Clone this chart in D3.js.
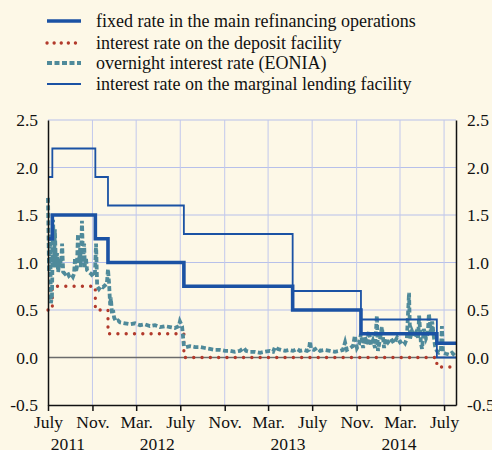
<!DOCTYPE html>
<html>
<head>
    <meta charset="utf-8">
    <title>ECB interest rates</title>
    <script src="https://d3js.org/d3.v7.min.js"></script>
    <style>
        body {
            margin: 0;
            background-color: #fdf8e7;
        }
        text {
            font-family: "Liberation Serif", "Times New Roman", serif;
            fill: #111;
        }
    </style>
</head>
<body>
    <script>
        // Policy rate step points (date the rate took effect, rate)
        const mroDates = ["2011-07-01", "2011-07-13", "2011-11-09", "2011-12-14", "2012-07-11", "2013-05-08", "2013-11-13", "2014-06-11"];
        const mroValues = [1.25, 1.50, 1.25, 1.00, 0.75, 0.50, 0.25, 0.15];

        const depositDates = ["2011-07-01", "2011-07-13", "2011-11-09", "2011-12-14", "2012-07-11", "2014-06-11"];
        const depositValues = [0.50, 0.75, 0.50, 0.25, 0.00, -0.10];

        const lendingDates = ["2011-07-01", "2011-07-13", "2011-11-09", "2011-12-14", "2012-07-11", "2013-05-08", "2013-11-13", "2014-06-11"];
        const lendingValues = [1.90, 2.20, 1.90, 1.60, 1.30, 0.70, 0.40, 0.00];

        // EONIA
        const eoniaDates = [
            "2011-07-01", "2011-07-04", "2011-07-07", "2011-07-09", "2011-07-12", "2011-07-15", "2011-07-18", "2011-07-20",
            "2011-07-23", "2011-07-26", "2011-07-29", "2011-08-03", "2011-08-06", "2011-08-09", "2011-08-12", "2011-08-17",
            "2011-08-23", "2011-08-28", "2011-09-03", "2011-09-08", "2011-09-11", "2011-09-14", "2011-09-16", "2011-09-19",
            "2011-09-22", "2011-09-25", "2011-09-28", "2011-09-30", "2011-10-03", "2011-10-06", "2011-10-09", "2011-10-11",
            "2011-10-14", "2011-10-17", "2011-10-22", "2011-10-28", "2011-11-03", "2011-11-08", "2011-11-11", "2011-11-14",
            "2011-11-19", "2011-11-25", "2011-11-30", "2011-12-06", "2011-12-11", "2011-12-14", "2011-12-17", "2011-12-20",
            "2011-12-22", "2011-12-25", "2011-12-28", "2011-12-31", "2012-01-05", "2012-01-11", "2012-01-16", "2012-01-30",
            "2012-02-13", "2012-02-27", "2012-03-12", "2012-03-25", "2012-04-08", "2012-04-22", "2012-05-06", "2012-05-20",
            "2012-06-03", "2012-06-16", "2012-06-27", "2012-06-30", "2012-07-06", "2012-07-11", "2012-07-17", "2012-07-28",
            "2012-08-11", "2012-08-25", "2012-09-07", "2012-09-21", "2012-10-05", "2012-10-19", "2012-11-02", "2012-11-16",
            "2012-11-29", "2012-12-13", "2012-12-24", "2012-12-30", "2013-01-10", "2013-01-24", "2013-02-07", "2013-02-20",
            "2013-03-06", "2013-03-15", "2013-03-20", "2013-03-28", "2013-04-06", "2013-04-17", "2013-04-28", "2013-05-09",
            "2013-05-20", "2013-05-28", "2013-06-08", "2013-06-17", "2013-06-22", "2013-06-25", "2013-06-28", "2013-07-06",
            "2013-07-14", "2013-07-23", "2013-08-05", "2013-08-19", "2013-09-02", "2013-09-16", "2013-09-24", "2013-09-30",
            "2013-10-05", "2013-10-14", "2013-10-22", "2013-10-27", "2013-11-02", "2013-11-08", "2013-11-13", "2013-11-19",
            "2013-11-24", "2013-11-30", "2013-12-05", "2013-12-11", "2013-12-16", "2013-12-22", "2013-12-27", "2013-12-30",
            "2014-01-05", "2014-01-10", "2014-01-16", "2014-01-21", "2014-01-27", "2014-02-04", "2014-02-12", "2014-02-21",
            "2014-03-01", "2014-03-09", "2014-03-15", "2014-03-20", "2014-03-26", "2014-03-29", "2014-04-03", "2014-04-09",
            "2014-04-14", "2014-04-20", "2014-04-23", "2014-04-28", "2014-05-01", "2014-05-06", "2014-05-12", "2014-05-17",
            "2014-05-20", "2014-05-26", "2014-05-29", "2014-06-03", "2014-06-06", "2014-06-11", "2014-06-17", "2014-06-22",
            "2014-06-25", "2014-06-28", "2014-07-06", "2014-07-15", "2014-07-23", "2014-07-31"
        ];
        const eoniaValues = [
            1.68, 0.90, 1.30, 0.57, 0.65, 1.45, 1.00, 1.35,
            0.95, 1.10, 0.90, 1.05, 0.95, 1.20, 0.90, 0.88,
            0.90, 0.86, 0.88, 0.85, 0.88, 1.05, 0.90, 0.95,
            1.30, 1.00, 1.15, 0.95, 1.44, 1.00, 1.20, 0.95,
            1.05, 0.92, 0.90, 0.88, 0.85, 0.90, 1.20, 0.75,
            0.72, 0.75, 0.74, 0.76, 0.78, 0.93, 0.78, 0.55,
            0.63, 0.46, 0.50, 0.42, 0.38, 0.39, 0.37, 0.36,
            0.35, 0.36, 0.34, 0.35, 0.33, 0.34, 0.32, 0.33,
            0.32, 0.31, 0.33, 0.38, 0.33, 0.12, 0.11, 0.12,
            0.11, 0.11, 0.10, 0.09, 0.08, 0.08, 0.07, 0.07,
            0.06, 0.07, 0.10, 0.07, 0.06, 0.06, 0.05, 0.06,
            0.07, 0.06, 0.11, 0.09, 0.08, 0.07, 0.08, 0.07,
            0.09, 0.07, 0.08, 0.07, 0.08, 0.17, 0.09, 0.08,
            0.10, 0.07, 0.08, 0.07, 0.06, 0.07, 0.08, 0.16,
            0.08, 0.10, 0.12, 0.23, 0.10, 0.14, 0.25, 0.10,
            0.22, 0.14, 0.28, 0.13, 0.18, 0.10, 0.44, 0.07,
            0.20, 0.32, 0.10, 0.20, 0.16, 0.20, 0.15, 0.21,
            0.16, 0.18, 0.15, 0.20, 0.68, 0.20, 0.28, 0.22,
            0.26, 0.21, 0.44, 0.15, 0.09, 0.30, 0.20, 0.25,
            0.46, 0.25, 0.38, 0.21, 0.12, 0.07, 0.05, 0.06,
            0.33, 0.05, 0.04, 0.03, 0.05, 0.02
        ];

        const tickDates = ["2011-07-01", "2011-11-01", "2012-03-01", "2012-07-01", "2012-11-01", "2013-03-01", "2013-07-01", "2013-11-01", "2014-03-01", "2014-07-01"];
        const tickLabels = ["July", "Nov.", "Mar.", "July", "Nov.", "Mar.", "July", "Nov.", "Mar.", "July"];
        const yearLabels = ["2011", "2012", "2013", "2014"];
        const yearDates = ["2011-08-25", "2012-04-28", "2013-04-25", "2014-02-26"];
        const yTicks = [-0.5, 0.0, 0.5, 1.0, 1.5, 2.0, 2.5];

        const legendLabels = [
            "fixed rate in the main refinancing operations",
            "interest rate on the deposit facility",
            "overnight interest rate (EONIA)",
            "interest rate on the marginal lending facility"
        ];

        const parse = d3.timeParse("%Y-%m-%d");
        const endDate = parse("2014-08-03");

        const width = 492, height = 450;
        const plotLeft = 48, plotRight = 456, plotTop = 120, plotBottom = 405;

        const blue = "#1b52a4", red = "#b23a2c", teal = "#4f8a9a";

        const svg = d3.select("body").append("svg")
            .attr("width", width)
            .attr("height", height);

        const x = d3.scaleTime().domain([parse("2011-07-01"), endDate]).range([plotLeft, plotRight]);
        const y = d3.scaleLinear().domain([-0.5, 2.5]).range([plotBottom, plotTop]);

        // Grid
        svg.append("g")
            .selectAll("line")
            .data(yTicks.filter(d => d > 0))
            .enter().append("line")
            .attr("x1", plotLeft).attr("x2", plotRight)
            .attr("y1", d => y(d)).attr("y2", d => y(d))
            .style("stroke", "#b7c0ea")
            .style("stroke-width", 1);

        svg.append("g")
            .selectAll("line")
            .data(tickDates.slice(1))
            .enter().append("line")
            .attr("x1", d => x(parse(d))).attr("x2", d => x(parse(d)))
            .attr("y1", plotTop).attr("y2", plotBottom)
            .style("stroke", "#c2c8ec")
            .style("stroke-width", 1);

        // Zero line
        svg.append("line")
            .attr("x1", plotLeft).attr("x2", plotRight)
            .attr("y1", y(0)).attr("y2", y(0))
            .style("stroke", "#6b6b6b")
            .style("stroke-width", 1.5);

        // Step helper: extend last value to end of the axis
        function stepData(dates, values) {
            const pts = dates.map((d, i) => ({date: parse(d), value: values[i]}));
            pts.push({date: endDate, value: values[values.length - 1]});
            return pts;
        }

        const stepLine = d3.line()
            .x(d => x(d.date))
            .y(d => y(d.value))
            .curve(d3.curveStepAfter);

        const plainLine = d3.line()
            .x(d => x(d.date))
            .y(d => y(d.value));

        // Deposit facility (dotted)
        svg.append("path")
            .datum(stepData(depositDates, depositValues))
            .attr("d", stepLine)
            .style("fill", "none")
            .style("stroke", red)
            .style("stroke-width", 3.3)
            .style("stroke-linecap", "round")
            .style("stroke-dasharray", "0.1 8.2");

        // EONIA (dashed)
        const eonia = eoniaDates.map((d, i) => ({date: parse(d), value: eoniaValues[i]}));
        svg.append("path")
            .datum(eonia)
            .attr("d", plainLine)
            .style("fill", "none")
            .style("stroke", teal)
            .style("stroke-width", 3.8)
            .style("stroke-dasharray", "5 2.5");

        // Marginal lending facility (thin)
        svg.append("path")
            .datum(stepData(lendingDates, lendingValues))
            .attr("d", stepLine)
            .style("fill", "none")
            .style("stroke", blue)
            .style("stroke-width", 1.8);

        // MRO (thick)
        svg.append("path")
            .datum(stepData(mroDates, mroValues))
            .attr("d", stepLine)
            .style("fill", "none")
            .style("stroke", blue)
            .style("stroke-width", 3.6);

        // Axes
        const fmt = d => d.toFixed(1);

        const yLeft = svg.append("g")
            .attr("transform", "translate(" + plotLeft + ",0)")
            .call(d3.axisLeft(y).tickValues(yTicks).tickFormat(fmt).tickSize(0).tickPadding(10));

        const yRight = svg.append("g")
            .attr("transform", "translate(" + plotRight + ",0)")
            .call(d3.axisRight(y).tickValues(yTicks).tickFormat(fmt).tickSize(0).tickPadding(11));

        const xAxis = svg.append("g")
            .attr("transform", "translate(0," + plotBottom + ")")
            .call(d3.axisBottom(x)
                .tickValues(tickDates.map(parse))
                .tickFormat((d, i) => tickLabels[i])
                .tickSizeInner(6).tickSizeOuter(0).tickPadding(5));

        [yLeft, yRight, xAxis].forEach(g => {
            g.attr("font-family", null).attr("font-size", null);
            g.select(".domain").style("stroke", "#111").style("stroke-width", 1.5);
            g.selectAll("text").style("font-family", "Liberation Serif").style("font-size", "17.5px").style("fill", "#111");
            g.selectAll(".tick line").style("stroke", "#111").style("stroke-width", 1.5);
        });

        // Year labels under the month labels
        svg.append("g")
            .selectAll("text")
            .data(yearLabels)
            .enter().append("text")
            .attr("x", (d, i) => x(parse(yearDates[i])))
            .attr("y", 450)
            .style("text-anchor", "middle")
            .style("font-size", "17.5px")
            .text(d => d);

        // Legend
        const legendY = [21, 43, 63, 84];
        const legend = svg.append("g");

        legend.selectAll("text")
            .data(legendLabels)
            .enter().append("text")
            .attr("x", 96)
            .attr("y", (d, i) => legendY[i])
            .attr("dy", "0.33em")
            .style("font-size", "18px")
            .text(d => d);

        const legendStyles = [
            {color: blue, w: 3.6, dash: null, cap: "butt"},
            {color: red, w: 3.3, dash: "0.1 7", cap: "round"},
            {color: teal, w: 3.8, dash: "5 2.5", cap: "butt"},
            {color: blue, w: 1.8, dash: null, cap: "butt"}
        ];

        legend.selectAll("line")
            .data(legendStyles)
            .enter().append("line")
            .attr("x1", 47).attr("x2", 81)
            .attr("y1", (d, i) => legendY[i]).attr("y2", (d, i) => legendY[i])
            .style("stroke", d => d.color)
            .style("stroke-width", d => d.w)
            .style("stroke-linecap", d => d.cap)
            .style("stroke-dasharray", d => d.dash);
    </script>
</body>
</html>
